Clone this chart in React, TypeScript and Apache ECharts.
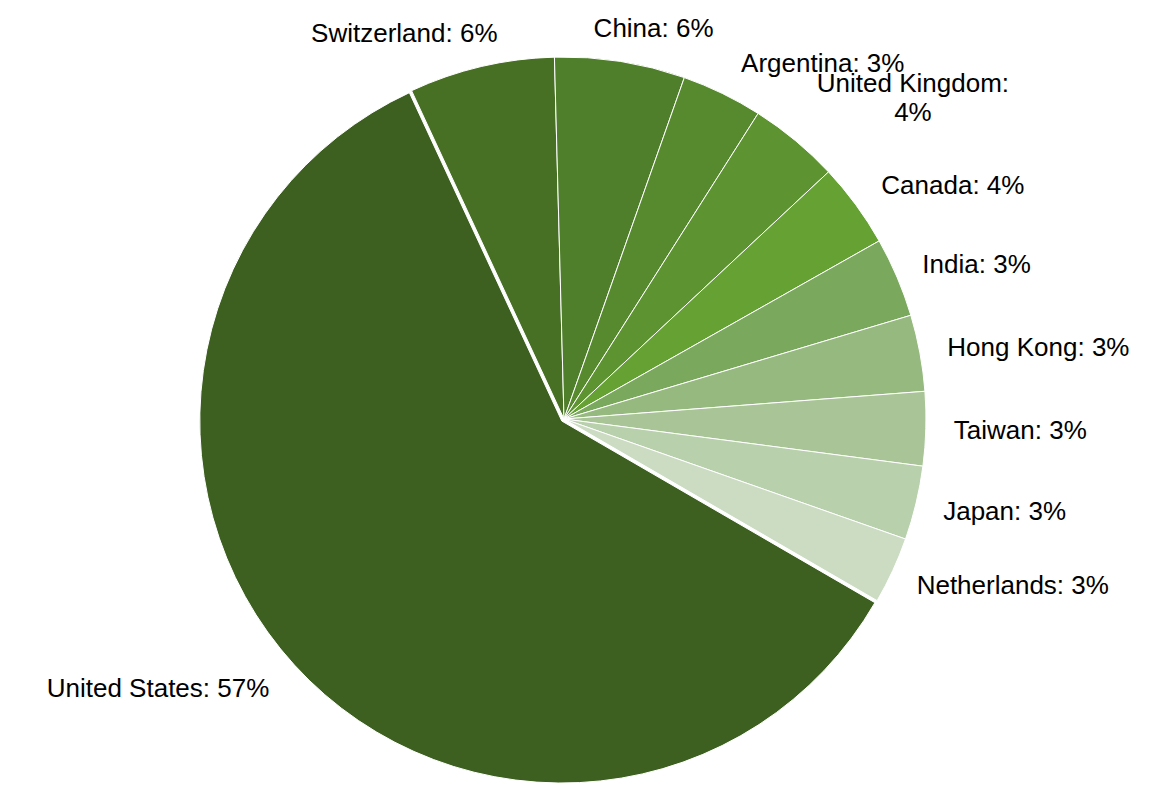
import React, { useEffect, useRef } from "react";
import * as echarts from "echarts";

const countries = [
  "Switzerland",
  "China",
  "Argentina",
  "United Kingdom",
  "Canada",
  "India",
  "Hong Kong",
  "Taiwan",
  "Japan",
  "Netherlands",
  "United States",
];
// share of total (%), remaining share belongs to countries not shown
const shares = [6.2, 5.55, 3.45, 3.85, 3.6, 3.4, 3.25, 3.15, 3.15, 2.85, 57.0];
const colors = [
  "#477025",
  "#4f7f2b",
  "#578a2e",
  "#5d9330",
  "#65a133",
  "#7aa85c",
  "#95b97e",
  "#a9c597",
  "#b9d0ac",
  "#ccdcc3",
  "#3d6020",
];

const FONT = "Liberation Sans, Arial, sans-serif";

// label placement tweaks (layout only)
const labelTweaks: Record<string, { length?: number; length2: number }> = {
  Switzerland: { length2: -24 },
  China: { length2: -32 },
  Argentina: { length2: 4 },
  "United Kingdom": { length: 56, length2: -16 },
  Canada: { length2: -2 },
  India: { length2: -6 },
  "Hong Kong": { length2: -6 },
  Taiwan: { length2: -6 },
  Japan: { length2: -6 },
  Netherlands: { length2: -7 },
  "United States": { length2: 0 },
};

export default function App() {
  const ref = useRef<HTMLDivElement>(null);
  useEffect(() => {
    if (!ref.current) return;
    const chart = echarts.init(ref.current, undefined, { renderer: "svg" });
    const data = countries.map((name, i) => {
      const t = labelTweaks[name];
      const item: any = {
        name,
        value: shares[i],
        itemStyle: { color: colors[i] },
        labelLine: { show: false, length: t.length ?? 34, length2: t.length2 },
      };
      if (name === "United States") {
        item.selected = true;
        item.select = { itemStyle: { color: colors[i] } };
      }
      if (name === "United Kingdom") {
        item.label = {
          formatter: (p: any) => `{c|${p.name}:}\n{c|${Math.round(p.value)}%}`,
          rich: {
            c: {
              width: 196,
              align: "center",
              fontSize: 26,
              lineHeight: 29,
              color: "#000",
              fontFamily: FONT,
            },
          },
        };
      }
      return item;
    });
    chart.setOption({
      animation: false,
      backgroundColor: "#ffffff",
      series: [
        {
          type: "pie",
          center: [564, 419],
          radius: [0, 362],
          startAngle: 114.9,
          clockwise: true,
          selectedMode: "single",
          selectedOffset: 3,
          avoidLabelOverlap: false,
          labelLayout: { hideOverlap: false },
          itemStyle: { borderColor: "#ffffff", borderWidth: 1 },
          emphasis: { disabled: true },
          label: {
            show: true,
            position: "outside",
            formatter: (p: any) => `${p.name}: ${Math.round(p.value)}%`,
            fontSize: 26,
            color: "#000000",
            fontFamily: FONT,
            distanceToLabelLine: 0,
          },
          labelLine: { show: false, length: 34, length2: 0 },
          data,
        },
      ],
    });
    return () => chart.dispose();
  }, []);
  return (
    <div
      ref={ref}
      style={{ position: "fixed", left: 0, top: 0, width: 1160, height: 788 }}
    />
  );
}
